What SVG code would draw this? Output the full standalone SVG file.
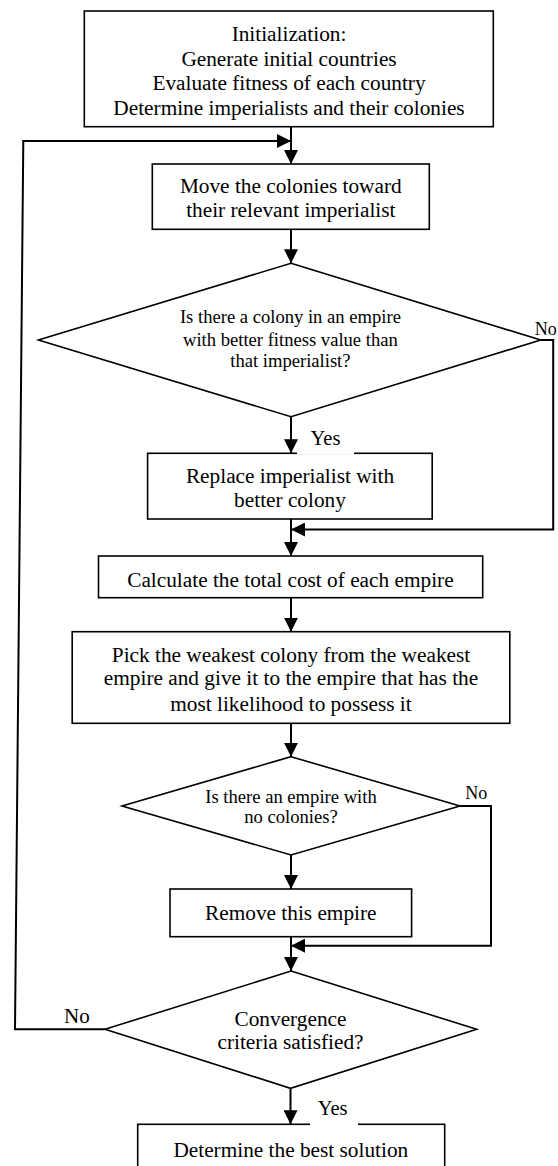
<svg xmlns="http://www.w3.org/2000/svg" width="558" height="1166" viewBox="0 0 558 1166">
<style>
.box{fill:#fff;stroke:#000;stroke-width:1.6}
.dia{fill:#fff;stroke:#000;stroke-width:1.6}
.t{font-family:"Liberation Serif","Times New Roman",serif;font-size:21.3px;fill:#000;text-anchor:middle}
.td{font-family:"Liberation Serif","Times New Roman",serif;font-size:18.6px;fill:#000;text-anchor:middle}
.lbl{font-family:"Liberation Serif","Times New Roman",serif;fill:#000}
.c{fill:none;stroke:#000;stroke-width:2;marker-end:url(#ah)}
.cn{fill:none;stroke:#000;stroke-width:2}
</style>
<defs>
<marker id="ah" viewBox="0 0 14 14" refX="14" refY="7" markerWidth="14" markerHeight="14" markerUnits="userSpaceOnUse" orient="auto">
<path d="M0,0 L14,7 L0,14 z" fill="#000"/>
</marker>
</defs>
<rect width="558" height="1166" fill="#fff"/>

<g id="init">
<rect class="box" x="84.3" y="11" width="409" height="115.7"/>
<text class="t" x="289" y="41">Initialization:</text>
<text class="t" x="289" y="65.5">Generate initial countries</text>
<text class="t" x="289" y="90">Evaluate fitness of each country</text>
<text class="t" x="289" y="114.5">Determine imperialists and their colonies</text>
</g>

<g id="move">
<rect class="box" x="152.3" y="164" width="277" height="65.3"/>
<text class="t" x="290.8" y="193">Move the colonies toward</text>
<text class="t" x="290.8" y="216.7">their relevant imperialist</text>
</g>

<g id="dec1">
<polygon class="dia" points="291,263.3 540.7,340 291,416.7 38.4,340"/>
<text class="td" x="290.4" y="322.7">Is there a colony in an empire</text>
<text class="td" x="290.4" y="345.7">with better fitness value than</text>
<text class="td" x="290.4" y="366.7">that imperialist?</text>
</g>

<g id="replace">
<rect class="box" x="147.6" y="453.3" width="284.6" height="65.7"/>
<text class="t" x="290" y="482.7">Replace imperialist with</text>
<text class="t" x="290" y="506.7">better colony</text>
</g>

<g id="calc">
<rect class="box" x="98.5" y="556" width="384.2" height="41.7"/>
<text class="t" x="290.4" y="586.7">Calculate the total cost of each empire</text>
</g>

<g id="pick">
<rect class="box" x="72.2" y="631.7" width="437.6" height="91.6"/>
<text class="t" x="291" y="661.7">Pick the weakest colony from the weakest</text>
<text class="t" x="291" y="685">empire and give it to the empire that has the</text>
<text class="t" x="291" y="710.7">most likelihood to possess it</text>
</g>

<g id="dec2">
<polygon class="dia" points="291,756.7 460,806 291,855 122,806"/>
<text class="td" x="291" y="803.3">Is there an empire with</text>
<text class="td" x="291" y="823.3">no colonies?</text>
</g>

<g id="remove">
<rect class="box" x="170" y="889" width="241.6" height="47.7"/>
<text class="t" x="290.8" y="920">Remove this empire</text>
</g>

<g id="dec3">
<polygon class="dia" points="291,971 476.7,1029.3 290.5,1088.3 105,1029.3"/>
<text class="t" x="290.5" y="1025.7">Convergence</text>
<text class="t" x="290.5" y="1049">criteria satisfied?</text>
</g>

<g id="best">
<rect class="box" x="137.7" y="1124.3" width="307" height="60"/>
<text class="t" x="290.8" y="1156.7">Determine the best solution</text>
</g>

<g id="labels">
<text class="lbl" x="534.7" y="335" font-size="18">No</text>
<rect x="297" y="428" width="57" height="26.5" fill="#fff"/>
<text class="lbl" x="310.6" y="445" font-size="20.5">Yes</text>
<text class="lbl" x="465.3" y="799.3" font-size="18">No</text>
<text class="lbl" x="64" y="1022.7" font-size="21">No</text>
<rect x="310" y="1100" width="48" height="26.2" fill="#fff"/>
<text class="lbl" x="317.7" y="1115" font-size="20.5">Yes</text>
</g>

<g id="connectors">
<line class="c" x1="291" y1="126.7" x2="291" y2="164"/>
<polyline class="c" points="105,1029.3 15,1029.3 23.3,141 291,141"/>
<line class="c" x1="291" y1="229.3" x2="291" y2="263.3"/>
<line class="c" x1="291" y1="416.7" x2="291" y2="453.3"/>
<polyline class="c" points="540.7,340 553.2,340 553.2,529.5 291,529.5"/>
<line class="c" x1="291" y1="519" x2="291" y2="556"/>
<line class="c" x1="291" y1="597.7" x2="291" y2="631.7"/>
<line class="c" x1="291" y1="723.3" x2="291" y2="756.7"/>
<line class="c" x1="291" y1="855" x2="291" y2="889"/>
<polyline class="c" points="460,806 491,806 491,945.7 291,945.7"/>
<line class="c" x1="291" y1="936.7" x2="291" y2="971"/>
<line class="c" x1="290.5" y1="1088.3" x2="290.5" y2="1124.3"/>
</g>
</svg>
